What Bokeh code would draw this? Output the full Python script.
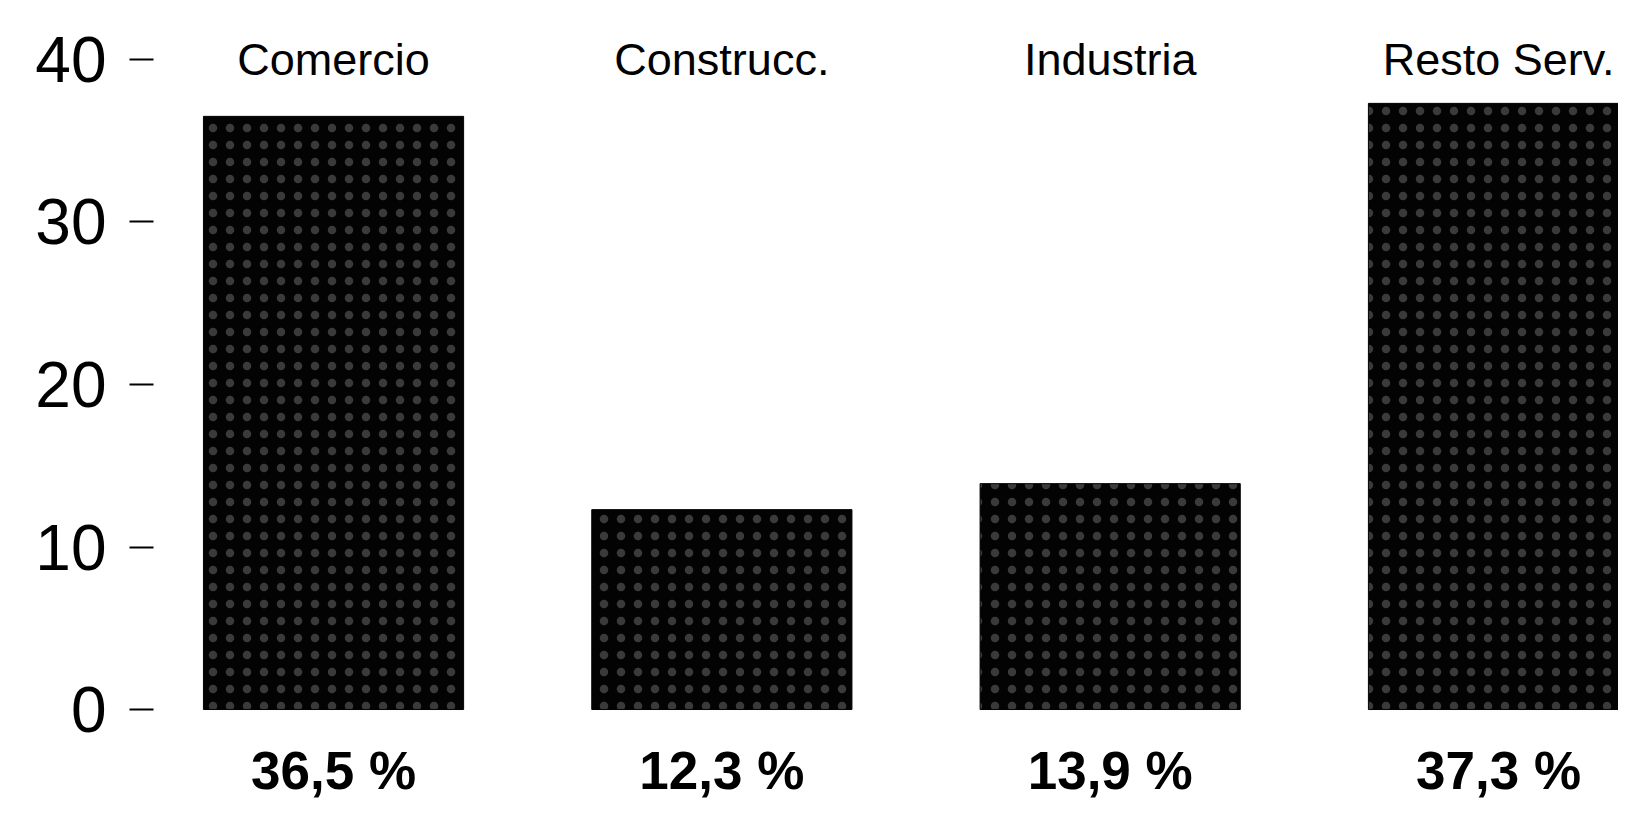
from bokeh.plotting import figure
from bokeh.models import Range1d, FixedTicker, ColumnDataSource
from bokeh.core.properties import value
from bokeh.embed import file_html
from bokeh.resources import INLINE

categories = ["Comercio", "Construcc.", "Industria", "Resto Serv."]
shares = [36.5, 12.3, 13.9, 37.3]
share_labels = ["36,5 %", "12,3 %", "13,9 %", "37,3 %"]
y_ticks = [0, 10, 20, 30, 40]

FONT = "Liberation Sans"
W, H = 1618, 801

xs = list(range(len(categories)))
src = ColumnDataSource(dict(x=xs, top=shares, cat=categories, lab=share_labels,
                            ycat=[40.0] * len(xs), ylab=[-5.56] * len(xs)))

p = figure(width=W, height=H, output_backend="svg", toolbar_location=None,
           x_range=Range1d(-0.4636, 3.309), y_range=Range1d(-5.66, 43.63),
           x_axis_location=None, min_border_left=153, min_border_right=0,
           min_border_top=0, min_border_bottom=0)
p.outline_line_color = None
p.xgrid.visible = False
p.ygrid.visible = False
p.background_fill_color = "white"
p.border_fill_color = "white"

ax = p.yaxis[0]
ax.ticker = FixedTicker(ticks=y_ticks)
ax.axis_line_color = None
ax.minor_tick_line_color = None
ax.major_tick_in = 0
ax.major_tick_out = 24
ax.major_tick_line_width = 2
ax.major_tick_line_color = "black"
ax.major_label_standoff = 23
ax.major_label_text_font = FONT
ax.major_label_text_font_size = "64px"
ax.major_label_text_color = "black"

p.vbar(x="x", top="top", bottom=0, width=0.67, source=src,
       fill_color="#030303", line_color="#030303",
       hatch_pattern="dot", hatch_color="white", hatch_alpha=0.22,
       hatch_scale=17, hatch_weight=1.2)

p.text(x="x", y="ycat", text="cat", source=src, text_align="center",
       text_baseline="middle", text_font=value(FONT), text_font_size="45px",
       text_color="black")
p.text(x="x", y="ylab", text="lab", source=src, text_align="center",
       text_baseline="bottom", text_font=value(FONT), text_font_size="53px",
       text_font_style="bold", text_color="black")

open("out.html", "w").write(file_html(p, INLINE))
